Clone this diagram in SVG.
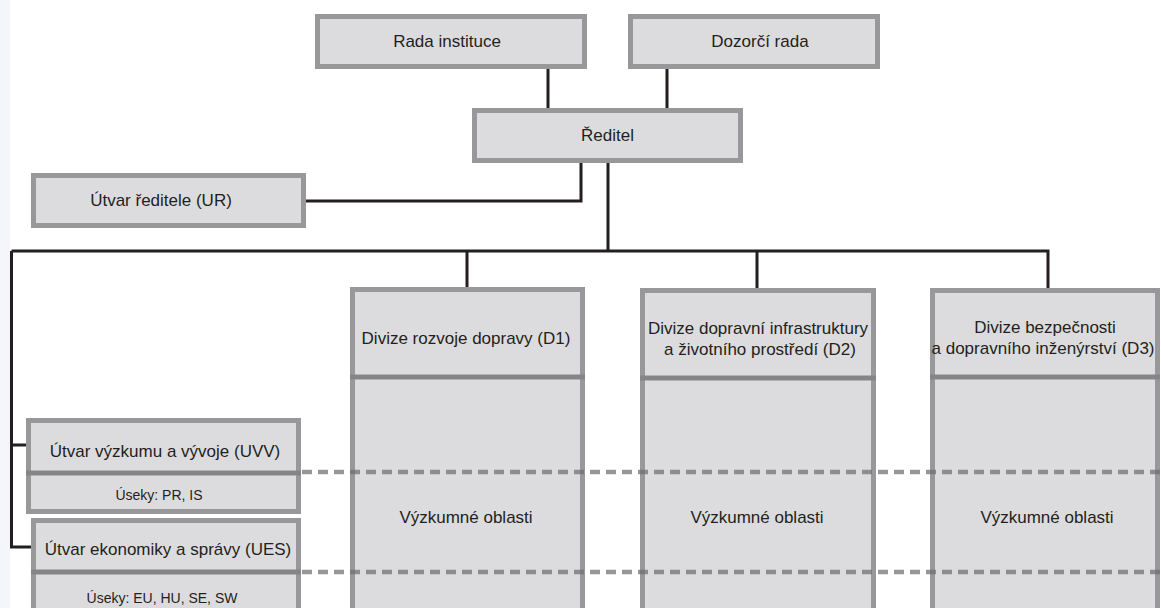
<svg xmlns="http://www.w3.org/2000/svg" width="1161" height="608" viewBox="0 0 1161 608">
<style>
.box{fill:#dcdcde;stroke:#98989a;stroke-width:5}
.div{stroke:#858587;stroke-width:5}
.con{fill:none;stroke:#231f20;stroke-width:3}
.dash{stroke:#6f6f72;stroke-opacity:0.72;stroke-width:4.5;stroke-dasharray:10 6}
text{font-family:"Liberation Sans",Arial,sans-serif;font-size:17px;fill:#231f20;text-anchor:middle}
.sm{font-size:14px}
</style>
<rect x="0" y="0" width="1161" height="608" fill="#ffffff"/>
<rect x="0" y="0" width="10" height="608" fill="#f5f6f9"/>
<g id="connectors">
<path class="con" d="M548 69V108M667 69V108M581 163V201H306M608 163V250M11.5 251H1048V288M467 251V288M757 251V288M11.5 251V547H31M11.5 445H26"/>
</g>
<g id="rada"><rect class="box" x="317.5" y="16.5" width="267" height="50"/><text x="447" y="47">Rada instituce</text></g>
<g id="dozorci"><rect class="box" x="630.5" y="16.5" width="247" height="50"/><text x="760" y="47">Dozorčí rada</text></g>
<g id="reditel"><rect class="box" x="474.5" y="110.5" width="266" height="50"/><text x="607.5" y="141">Ředitel</text></g>
<g id="ur"><rect class="box" x="33.5" y="175.5" width="270" height="50"/><text x="161" y="206">Útvar ředitele (UR)</text></g>
<g id="d1"><rect class="box" x="352.5" y="289.5" width="230" height="340"/><line class="div" x1="350" y1="377" x2="585" y2="377"/><text x="466" y="344">Divize rozvoje dopravy (D1)</text><text x="466" y="523">Výzkumné oblasti</text></g>
<g id="d2"><rect class="box" x="642.5" y="290.5" width="231" height="340"/><line class="div" x1="640" y1="378" x2="876" y2="378"/><text x="758" y="334">Divize dopravní infrastruktury</text><text x="760" y="355">a životního prostředí (D2)</text><text x="757" y="523">Výzkumné oblasti</text></g>
<g id="d3"><rect class="box" x="932.5" y="290.5" width="225" height="340"/><line class="div" x1="930" y1="377" x2="1160" y2="377"/><text x="1045" y="333">Divize bezpečnosti</text><text x="1043" y="354">a dopravního inženýrství (D3)</text><text x="1047" y="523">Výzkumné oblasti</text></g>
<g id="uvv"><rect class="box" x="28.5" y="420.5" width="270" height="91"/><line class="div" x1="26" y1="473" x2="301" y2="473"/><text x="165" y="457">Útvar výzkumu a vývoje (UVV)</text><text class="sm" x="159" y="500">Úseky: PR, IS</text></g>
<g id="ues"><rect class="box" x="33.5" y="520.5" width="265" height="100"/><line class="div" x1="31" y1="572" x2="301" y2="572"/><text x="168" y="555">Útvar ekonomiky a správy (UES)</text><text class="sm" x="162" y="603">Úseky: EU, HU, SE, SW</text></g>
<g id="dashes">
<line class="dash" x1="302" y1="472" x2="1161" y2="472"/>
<line class="dash" x1="302" y1="572" x2="1161" y2="572"/>
</g>
</svg>
